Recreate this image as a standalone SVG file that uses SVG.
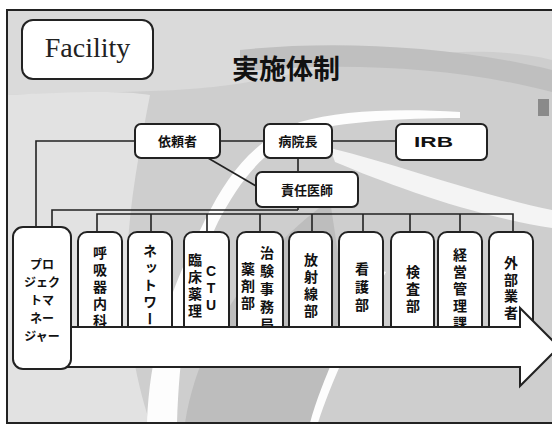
<svg xmlns="http://www.w3.org/2000/svg" width="552" height="426" viewBox="0 0 552 426">
<style>
.box{fill:#fff;stroke:#222;stroke-width:2}
.ln{fill:none;stroke:#222;stroke-width:1.6}
.jp{font-family:"Noto Sans CJK JP","Noto Sans",sans-serif;font-weight:700;fill:#111}
.h{font-size:13px;text-anchor:middle}
.v{font-size:14px;writing-mode:vertical-rl;letter-spacing:3px}
.pm{font-size:12px;text-anchor:middle}
</style>
<defs>
<clipPath id="fr"><rect x="7" y="10" width="560" height="413"/></clipPath>
</defs>
<rect width="552" height="426" fill="#fff"/>
<g id="background" clip-path="url(#fr)">
<rect x="7" y="10" width="560" height="413" fill="#cecece"/>
<path d="M7 10 H552 V60 C470 40 360 60 260 80 C180 95 120 90 7 95 Z" fill="#dadada"/>
<path d="M7 95 C70 92 120 90 150 95 C130 200 110 300 150 423 H7 Z" fill="#e2e2e2"/>
<path d="M185 423 C200 330 260 250 330 200 L345 300 C330 340 330 380 318 423 Z" fill="#bdbdbd"/>
<path d="M240 50 C330 40 450 45 552 70 L552 92 C450 65 330 62 240 72 Z" fill="#bfbfbf"/>
<path d="M147 423 C150 340 175 280 205 220 C230 170 255 140 300 122 C340 110 400 108 460 112 L460 118 C400 118 340 122 305 132 C265 148 240 180 218 222 C190 280 180 340 177 423 Z" fill="#fdfdfd"/>
<path d="M310 423 C322 380 345 330 380 270 L386 272 C355 330 330 385 318 423 Z" fill="#fdfdfd"/>
<path d="M330 148 C400 165 480 195 552 210 L552 228 C470 215 390 185 335 162 Z" fill="#f4f4f4"/>
<rect x="538" y="99" width="11" height="17" fill="#8a8a8a"/>
</g>
<rect id="frame" x="7" y="10" width="560" height="413" fill="none" stroke="#222" stroke-width="2"/>

<g id="connectors">
<path class="ln" d="M135 141 H36 V227"/>
<path class="ln" d="M220 141 H264"/>
<path class="ln" d="M332 141 H396"/>
<path class="ln" d="M298 158 V210"/>
<path class="ln" d="M208 158 L256 186"/>
<path class="ln" d="M298 210 H52 V227"/>
<path class="ln" d="M97 232 V214 H513 V232"/>
<path class="ln" d="M151 214 V232 M207 214 V232 M260 214 V232 M312 214 V232 M363 214 V232 M410 214 V232 M460 214 V232"/>
</g>

<g id="facility">
<rect class="box" x="22" y="20" width="131" height="59" rx="11"/>
<text x="87.5" y="57" font-family="Liberation Serif,serif" font-size="28" text-anchor="middle" fill="#222">Facility</text>
</g>
<g id="title">
<text class="jp" x="232" y="79" font-size="27">実施体制</text>
</g>

<g id="irai">
<rect class="box" x="135" y="124" width="85" height="34" rx="6"/>
<text class="jp h" x="177.5" y="146">依頼者</text>
</g>
<g id="byoin">
<rect class="box" x="264" y="124" width="68" height="34" rx="6"/>
<text class="jp h" x="298" y="146">病院長</text>
</g>
<g id="irb">
<rect class="box" x="396" y="124" width="91" height="36" rx="6"/>
<text x="414" y="147" font-family="Liberation Sans,Arial,sans-serif" font-weight="700" font-size="14" textLength="39" lengthAdjust="spacingAndGlyphs" fill="#111">IRB</text>
</g>
<g id="sekinin">
<rect class="box" x="256" y="172" width="102" height="35" rx="6"/>
<text class="jp h" x="307" y="195">責任医師</text>
</g>

<g id="kokyuki"><rect class="box" x="78" y="232" width="44" height="110" rx="9"/><text class="jp v" x="100" y="246">呼吸器内科</text></g>
<g id="network"><rect class="box" x="128" y="232" width="44" height="110" rx="9"/><text class="jp v" x="150" y="244">ネットワーク</text></g>
<g id="ctu"><rect class="box" x="184" y="232" width="45" height="110" rx="9"/><text class="jp v" x="195" y="253">臨床薬理</text><text font-family="Liberation Sans,Arial,sans-serif" font-weight="700" font-size="14" text-anchor="middle" fill="#111"><tspan x="211" y="276">C</tspan><tspan x="211" y="293">T</tspan><tspan x="211" y="310">U</tspan></text></g>
<g id="chiken"><rect class="box" x="237" y="232" width="46" height="110" rx="9"/><text class="jp v" x="267" y="246" style="letter-spacing:4px">治験事務局</text><text class="jp v" x="248" y="262">薬剤部</text></g>
<g id="hoshasen"><rect class="box" x="289" y="232" width="43" height="110" rx="9"/><text class="jp v" x="311" y="253">放射線部</text></g>
<g id="kango"><rect class="box" x="339" y="232" width="44" height="110" rx="9"/><text class="jp v" x="362" y="262" style="letter-spacing:4px">看護部</text></g>
<g id="kensa"><rect class="box" x="391" y="232" width="43" height="110" rx="9"/><text class="jp v" x="413" y="265">検査部</text></g>
<g id="keiei"><rect class="box" x="438" y="232" width="44" height="110" rx="9"/><text class="jp v" x="460" y="248">経営管理課</text></g>
<g id="gaibu"><rect class="box" x="489" y="232" width="44" height="110" rx="9"/><text class="jp v" x="511" y="256" style="letter-spacing:2.5px">外部業者</text></g>

<g id="arrow">
<path d="M60 327 H520 V308 L559 347 L520 386 V367 H60 Z" fill="#fff" stroke="#222" stroke-width="2"/>
</g>

<g id="pm">
<rect class="box" x="13" y="227" width="58" height="142" rx="10"/>
<text class="jp pm"><tspan x="42" y="268.5">プロ</tspan><tspan x="42" y="286.5">ジェク</tspan><tspan x="42" y="304.5">トマ</tspan><tspan x="42" y="322.5">ネー</tspan><tspan x="42" y="340.5">ジャー</tspan></text>
</g>
</svg>
